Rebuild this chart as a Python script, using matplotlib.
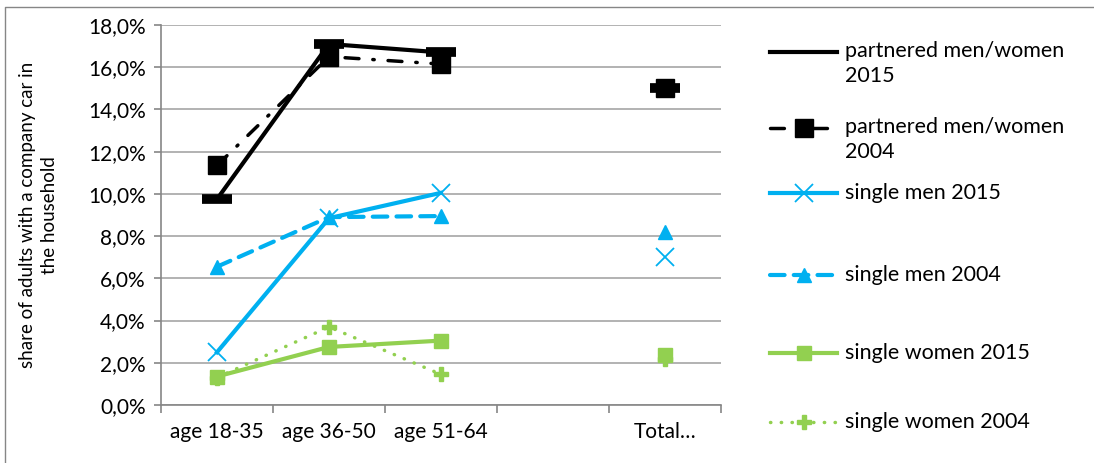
import numpy as np
import matplotlib
matplotlib.use("Agg")
import matplotlib.pyplot as plt
from matplotlib.lines import Line2D
from matplotlib.ticker import FuncFormatter, MultipleLocator

plt.rcParams['font.family'] = ['Lato', 'DejaVu Sans']

categories = ["age 18-35", "age 36-50", "age 51-64", "", "Total…"]

# share of adults (%) per group; the empty slot keeps Total apart
partnered_2015 = [9.75, 17.1, 16.7, np.nan, 15.0]
partnered_2004 = [11.35, 16.5, 16.15, np.nan, 15.0]
single_men_2015 = [2.5, 8.85, 10.05, np.nan, 7.0]
single_men_2004 = [6.55, 8.9, 8.95, np.nan, 8.2]
single_women_2015 = [1.35, 2.75, 3.05, np.nan, 2.35]
single_women_2004 = [1.3, 3.7, 1.45, np.nan, 2.2]

labels = ["partnered men/women\n2015", "partnered men/women\n2004",
          "single men 2015", "single men 2004",
          "single women 2015", "single women 2004"]

blue = "#00B0F0"
green = "#92D050"

styles = [
    dict(color="black", lw=3, marker="_", ms=22, mew=7),
    dict(color="black", lw=2.5, ls=(0, (4, 4, 0.4, 4)), dash_capstyle="round",
         marker="s", ms=13),
    dict(color=blue, lw=3, marker="x", ms=13, mew=1.3),
    dict(color=blue, lw=3, ls=(0, (3.5, 2.2)), dash_capstyle="round",
         marker="^", ms=10),
    dict(color=green, lw=3, marker="s", ms=10),
    dict(color=green, lw=2.5, ls=(0, (0.1, 3)), dash_capstyle="round",
         marker="P", ms=10),
]
series = [partnered_2015, partnered_2004, single_men_2015, single_men_2004,
          single_women_2015, single_women_2004]

fig = plt.figure(figsize=(10.94, 4.63), dpi=100)
ax = fig.add_axes([161/1094, 1 - 405/463, 560/1094, 380/463])

x = np.arange(len(categories))
for vals, st in zip(series, styles):
    ax.plot(x, vals, **st)

ax.set_xlim(-0.5, len(categories) - 0.5)
ax.set_ylim(0, 18)
ax.yaxis.set_major_locator(MultipleLocator(2))
ax.yaxis.set_major_formatter(FuncFormatter(lambda v, p: f"{v:.1f}%".replace(".", ",")))
ax.set_xticks(x)
ax.set_xticklabels(categories)
ax.set_xticks(np.arange(-0.5, len(categories)), minor=True)

ax.grid(axis="y", color="#A6A6A6", lw=1.2)
ax.set_axisbelow(True)
for s in ["top", "right"]:
    ax.spines[s].set_visible(False)
for s in ["left", "bottom"]:
    ax.spines[s].set_color("#868686")
    ax.spines[s].set_linewidth(1.2)

ax.tick_params(axis="x", which="major", length=0, labelsize=15, pad=12)
ax.tick_params(axis="x", which="minor", length=6, width=1.2, color="#868686")
ax.tick_params(axis="y", length=5, width=1.2, color="#868686", labelsize=15, pad=6)

ax.set_ylabel("share of adults with a company car in\nthe household", fontsize=13.5,
              linespacing=1.35)
ax.yaxis.set_label_coords(-103/560, 0.5)

# legend drawn by hand so the rows sit where they should
legend_rows = [52, 128, 193, 275, 353, 422]
for row, lab, st in zip(legend_rows, labels, styles):
    yf = 1 - row / 463
    hs = dict(st)
    if hs.get("marker") == "_":
        hs["marker"] = None
    # handle line with its marker in the middle
    fig.lines.append(Line2D([770/1094, 803.5/1094, 837/1094], [yf, yf, yf],
                            transform=fig.transFigure, markevery=[1], **hs))
    if "\n" in lab:
        fig.text(845/1094, yf + 11/463, lab, fontsize=15.5, va="top", ha="left",
                 linespacing=1.3)
    else:
        fig.text(845/1094, yf, lab, fontsize=15.5, va="center", ha="left")

fig.lines.append(Line2D([5/1094, 5/1094, 1.01], [0, 1 - 7/463, 1 - 7/463],
                        transform=fig.transFigure, color="#868686", lw=1))

fig.savefig("out.png", dpi=100)
